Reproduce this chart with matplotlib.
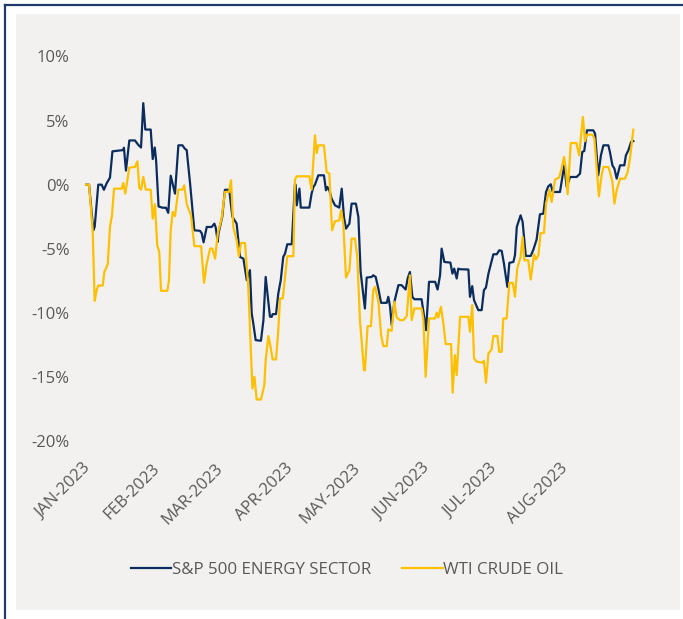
import matplotlib
matplotlib.use("Agg")
import matplotlib.pyplot as plt
import matplotlib.dates as mdates
from matplotlib.patches import Rectangle
from matplotlib.lines import Line2D
from matplotlib.transforms import ScaledTranslation
import numpy as np
import datetime as dt

# ---------------- data (days since 2023-01-01, % change) ----------------
energy_day = [0, 1.8, 3.7, 4.3, 5.9, 7.4, 8.4, 9.6, 11.1, 12.2, 17.0, 17.3, 18.2, 19.7, 22.2, 23.7, 24.9,
              25.9, 26.8, 29.2, 30.1, 31.0, 31.6, 32.7, 34.5, 36.0, 37.0, 38.1, 40.0, 41.5, 43.3, 44.4,
              45.2, 46.7, 48.6, 51.1, 51.9, 52.7, 54.1, 56.3, 57.5, 58.1, 59.0, 59.3, 61.0, 62.2, 64.1,
              65.5, 67.4, 68.9, 70.4, 71.9, 73.3, 74.1, 74.8, 75.85, 78.2, 79.3, 80.3, 82.2, 83.0, 83.4,
              84.9, 85.9, 87.0, 88.1, 88.9, 89.9, 91.9, 93.3, 93.6, 94.1, 95.3, 95.9, 99.7, 100.7, 101.5,
              102.2, 103.7, 106.2, 107.1, 107.7, 108.6, 109.6, 111.1, 113.0, 114.1, 115.1, 116.0, 117.5,
              118.5, 120.4, 121.5, 122.5, 124.4, 125.2, 127.4, 128.1, 129.2, 130.4, 131.6, 134.1, 134.8,
              135.6, 136.3, 137.5, 139.3, 140.7, 142.5, 143.4, 144.4, 145.5, 146.4, 149.6, 151.6, 152.9,
              155.6, 156.7, 157.8, 158.5, 159.7, 162.4, 163.3, 164.1, 165.2, 165.9, 166.7, 170.4, 171.1,
              172.1, 172.9, 174.8, 176.3, 177.3, 178.2, 179.3, 181.5, 183.0, 184.1, 185.2, 186.2, 187.7,
              188.6, 190.4, 191.1, 191.9, 193.6, 194.5, 195.9, 198.1, 199.3, 200.7, 202.2, 203.7, 204.9,
              205.9, 207.0, 207.9, 211.1, 213.0, 214.1, 215.6, 218.5, 220.0, 221.0, 221.9, 223.1, 225.9,
              226.7, 228.1, 229.3, 230.4, 232.6, 233.3, 234.4, 235.3, 236.3, 237.8, 239.7, 240.4, 241.5,
              242.7, 243.7]
energy_pct = [0, 0, -3.56, -3.3, 0, 0, -0.4, 0.1, 0.55, 2.6, 2.7, 2.88, 1.1, 3.45, 3.45, 3.1, 2.9,
              6.36, 4.3, 4.3, 2.0, 2.9, 1.9, -1.7, -1.8, -1.8, -2.2, 0.7, -0.7, 3.07, 3.07, 2.8,
              2.7, 0.1, -3.56, -3.6, -3.8, -4.5, -3.3, -3.3, -3.04, -3.35, -4.46, -3.83, -2.5, -0.4, -0.4,
              -2.5, -3.04, -5.64, -5.77, -7.45, -6.67, -10.05, -10.83, -12.13, -12.18, -10.57, -7.2, -10.3, -10.31, -10.1,
              -10.1, -8.5, -7.45, -5.64, -5.38, -4.65, -4.65, 0.0, 0.0, -1.61, -0.31, -1.79, -1.79, -0.7, -0.18,
              0.0, 0.73, 0.73, -0.44, -0.18, -0.44, -1.09, -1.61, -1.79, -0.31, -2.55, -3.43, -3.04,
              -1.48, -1.48, -2.52, -6.81, -9.66, -7.25, -7.2, -7.07, -7.2, -8.13, -9.22, -9.22, -8.75,
              -9.53, -10.96, -9.14, -7.84, -7.84, -8.18, -7.32, -6.81, -8.75, -8.94, -8.94, -11.35, -7.58,
              -7.58, -8.18, -7.07, -4.99, -6.03, -6.08, -6.94, -6.55, -7.32, -6.55, -6.6, -6.62, -8.75,
              -7.92, -9.01, -9.79, -9.79, -8.23, -8.03, -6.94, -5.43, -5.43, -5.12, -5.17, -6.16, -7.97,
              -6.10, -6.03, -5.51, -3.30, -2.39, -2.91, -5.56, -5.56, -5.06, -4.29, -2.31, -2.26, -0.57,
              -0.13, 0.03, -0.57, -0.57, 1.51, -0.18, 0.6, 0.6, 0.86, 2.55, 2.63, 4.24, 4.24,
              3.98, 0.73, 2.29, 3.07, 3.07, 2.55, 1.51, 1.25, 0.47, 1.51, 1.51, 2.29, 2.68,
              3.33, 3.40]

wti_day = [0, 1.8, 3.4, 4.3, 5.2, 5.9, 7.9, 8.6, 10.1, 11.1, 12.0, 12.9, 16.3, 17.0, 17.9, 19.7, 22.2,
           23.3, 24.1, 24.9, 25.9, 27.0, 29.2, 30.1, 31.1, 32.1, 33.0, 33.8, 36.6, 37.3, 38.1, 39.0,
           40.0, 41.5, 43.3, 44.1, 45.2, 46.2, 47.1, 48.6, 51.6, 52.9, 54.1, 55.6, 56.6, 57.8, 59.0,
           60.7, 62.2, 64.0, 64.9, 65.9, 67.4, 68.4, 69.3, 71.1, 72.6, 74.4, 75.3, 76.3, 78.2, 79.7,
           80.3, 81.5, 82.2, 83.4, 84.9, 85.9, 86.7, 87.9, 88.9, 89.9, 92.6, 93.3, 94.1, 99.7, 100.7,
           102.2, 103.0, 103.7, 106.2, 107.4, 108.6, 109.8, 111.1, 113.0, 113.8, 114.8, 116.0, 117.5,
           118.5, 120.0, 121.0, 122.2, 124.0, 124.4, 125.6, 127.1, 128.1, 128.9, 130.4, 131.6, 132.6,
           134.1, 134.8, 136.3, 137.5, 138.5, 140.0, 141.5, 143.0, 144.4, 145.2, 146.4, 149.6, 150.4,
           151.4, 152.9, 155.6, 156.3, 157.0, 158.2, 159.3, 160.3, 162.7, 163.4, 164.4, 165.2, 166.7,
           170.4, 171.1, 172.1, 172.9, 174.1, 176.7, 177.3, 178.2, 179.3, 180.7, 181.5, 183.3, 184.1,
           185.2, 185.9, 187.4, 188.6, 190.1, 191.1, 192.1, 193.6, 194.5, 195.3, 197.0, 198.1, 199.6,
           200.4, 201.5, 202.5, 204.0, 204.9, 206.4, 207.4, 208.9, 210.7, 211.9, 212.9, 213.8, 214.5,
           215.9, 218.4, 219.6, 220.4, 221.3, 222.2, 223.0, 225.5, 226.4, 227.4, 228.4, 229.6, 230.4,
           232.6, 233.3, 234.4, 235.3, 236.3, 237.8, 240.0, 241.2, 242.2, 243.0, 243.7]
wti_pct = [0, 0, -3.56, -9.07, -8.23, -7.87, -7.87, -6.81, -6.21, -3.30, -2.39, -0.31, -0.31, 0.13, -0.70, 1.33, 1.38,
           1.82, -0.23, -0.39, 0.60, -0.39, -0.39, -2.65, -1.53, -4.72, -5.24, -8.28, -8.28, -7.51, -3.56, -2.13,
           -2.45, -0.39, -0.39, -0.05, -1.48, -2.0, -2.39, -4.80, -4.80, -7.66, -6.16, -4.99, -4.99, -5.77, -3.82,
           -2.65, -0.57, -0.57, 0.34, -3.30, -4.34, -5.58, -4.55, -4.55, -8.10, -15.9, -14.99, -16.76, -16.76, -15.64,
           -13.69, -11.81, -12.39, -13.63, -13.63, -11.35, -8.88, -8.88, -7.2, -5.58, -5.58, 0.39, 0.65, 0.65, -0.39,
           3.85, 2.47, 3.07, 3.07, 0.99, 0.86, -3.56, -2.86, -2.78, -2.0, -3.04, -7.25, -6.68,
           -4.21, -4.21, -5.64, -10.57, -14.47, -14.5, -11.04, -11.04, -8.23, -7.97, -9.14, -11.74, -12.6,
           -12.6, -11.3, -11.4, -9.14, -10.36, -10.57, -10.57, -10.26, -7.07, -10.57, -9.66, -9.66, -10.57,
           -14.99, -10.44, -10.44, -9.99, -10.36, -9.53, -10.83, -12.44, -12.44, -16.23, -13.3, -14.86, -10.31,
           -10.31, -11.48, -9.40, -13.55, -13.81, -13.89, -13.74, -15.45, -13.17, -12.86, -11.81, -11.81, -13.04,
           -13.04, -10.44, -10.44, -7.66, -7.66, -8.75, -6.55, -5.64, -4.08, -5.90, -5.90, -7.40, -5.43,
           -5.84, -5.51, -3.77, -3.77, -1.48, -0.39, -1.35, 0.4, 0.55, 1.33, 2.16, 1.12, -0.75,
           3.25, 3.25, 2.29, 3.72, 5.28, 3.40, 3.90, 3.90, 3.59, 1.38, -0.91, 0.73, 1.38,
           1.38, 0.99, 0.21, -1.48, -0.44, 0.47, 0.47, 0.99, 2.03, 3.20, 4.29]

series_names = ["S&P 500 ENERGY SECTOR", "WTI CRUDE OIL"]
month_labels = ["JAN-2023", "FEB-2023", "MAR-2023", "APR-2023", "MAY-2023", "JUN-2023", "JUL-2023", "AUG-2023"]
y_ticks = [-20, -15, -10, -5, 0, 5, 10]

# ---------------- styling ----------------
NAVY = "#0b2d5e"
GOLD = "#ffc000"
TXT = "#595959"
PANEL = "#f2f1f0"
FONT = "Open Sans"

W, H = 683, 619
fig = plt.figure(figsize=(W / 100, H / 100), dpi=100)
fig.patch.set_facecolor("white")

# background panel and frame lines
fig.add_artist(Rectangle((16 / W, (H - 610) / H), (680 - 16) / W, (610 - 14) / H,
                         transform=fig.transFigure, facecolor=PANEL, edgecolor="none", zorder=-10))
fig.add_artist(Line2D([5 / W, 5 / W], [0, (H - 5) / H], transform=fig.transFigure, color="#1f3a68", lw=1.6))
fig.add_artist(Line2D([5 / W, 1], [(H - 5) / H, (H - 5) / H], transform=fig.transFigure, color="#1f3a68", lw=1.6))

left_px, right_px = 85, 650
top_px, bot_px = 56.5, 441
ax = fig.add_axes([left_px / W, (H - bot_px) / H, (right_px - left_px) / W, (bot_px - top_px) / H])
ax.set_facecolor("none")

base = mdates.date2num(dt.datetime(2023, 1, 1))
ex = base + np.array(energy_day)
wx = base + np.array(wti_day)

l1, = ax.plot(ex, energy_pct, color=NAVY, lw=1.6, solid_joinstyle="round", zorder=3)
l2, = ax.plot(wx, wti_pct, color=GOLD, lw=1.6, solid_joinstyle="round", zorder=4)

px_per_day = 2.25
ax.set_xlim(base, base + (right_px - left_px) / px_per_day)
ax.set_ylim(-20, 10)

ax.set_yticks(y_ticks)
ax.set_yticklabels([f"{v}%" if v >= 0 else f"-{abs(v)}%" for v in y_ticks])
month_pos = [mdates.date2num(dt.datetime(2023, m, 1)) for m in range(1, 9)]
ax.set_xticks(month_pos)
ax.set_xticklabels(month_labels, rotation=45, ha="right", va="center", rotation_mode="anchor")

ax.tick_params(axis="both", length=0, colors=TXT, labelsize=12)
ax.tick_params(axis="y", pad=11)
ax.tick_params(axis="x", pad=18)
for lab in ax.get_xticklabels() + ax.get_yticklabels():
    lab.set_fontfamily(FONT)
    lab.set_color(TXT)
offset = ScaledTranslation(3 / 100, 0, fig.dpi_scale_trans)
for lab in ax.get_xticklabels():
    lab.set_transform(lab.get_transform() + offset)

for s in ax.spines.values():
    s.set_visible(False)
ax.grid(False)

leg = fig.legend([l1, l2], series_names, loc="center", bbox_to_anchor=(347 / W, (H - 570) / H),
                 ncol=2, frameon=False, handlelength=2.4, handletextpad=0.05, columnspacing=1.8,
                 prop={"family": FONT, "size": 12.2})
for t in leg.get_texts():
    t.set_color(TXT)

fig.savefig("out.png", dpi=100, facecolor=fig.get_facecolor())
